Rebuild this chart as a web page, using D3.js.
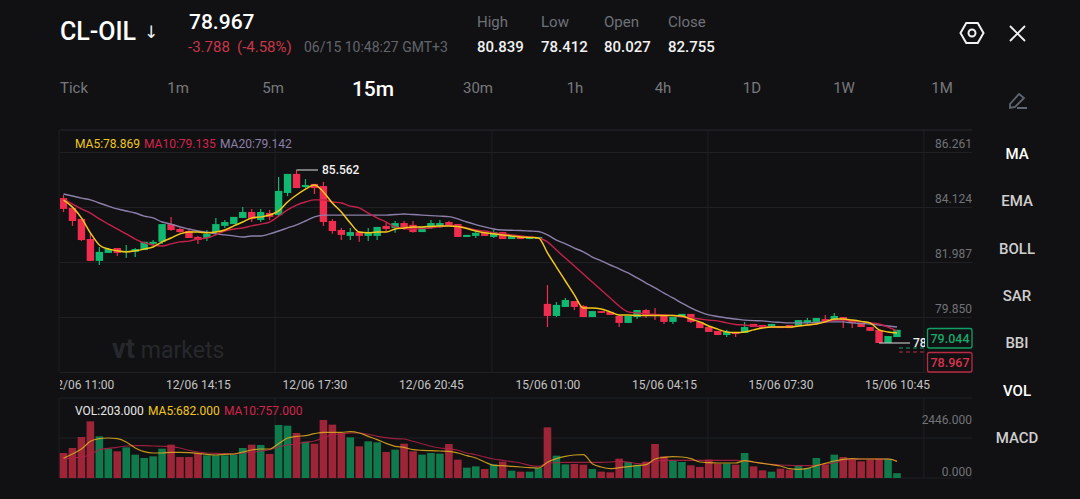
<!DOCTYPE html>
<html><head><meta charset="utf-8">
<script src="https://cdn.jsdelivr.net/npm/d3@7/dist/d3.min.js"></script>
<style>
html,body{margin:0;padding:0;background:#111113;overflow:hidden}
svg{display:block;font-family:Roboto,sans-serif}
</style></head><body><svg id="c" width="1080" height="499"></svg>
<script>
const opens=[84.47,84.09,83.66,82.88,82.03,82.34,82.53,82.38,82.38,82.45,
82.69,82.77,83.46,83.27,83.19,82.96,82.92,83.15,83.39,83.46,
83.70,83.93,83.62,83.89,83.81,84.67,85.41,84.90,85.02,84.94,
83.58,83.23,83.00,83.15,83.00,83.00,83.39,83.31,83.50,83.43,
83.15,83.31,83.39,83.54,83.46,82.96,83.00,83.12,82.96,83.15,
82.88,83.00,82.88,82.88,80.36,79.89,80.24,80.47,80.28,79.85,
80.08,80.05,79.89,79.62,79.85,80.12,79.93,79.89,79.66,79.85,
79.97,79.66,79.46,79.31,79.15,79.27,79.23,79.58,79.54,79.46,
79.50,79.54,79.50,79.62,79.66,79.77,79.73,79.85,79.73,79.58,
79.46,79.35,78.84,79.07];
const closes=[84.05,83.58,82.84,82.03,82.38,82.49,82.34,82.42,82.49,82.77,
82.77,83.46,83.23,83.15,82.92,82.84,83.08,83.46,83.54,83.74,
83.93,83.66,83.93,83.74,84.75,85.41,84.86,84.98,84.86,83.54,
83.19,83.04,83.15,83.00,83.15,83.35,83.27,83.50,83.35,83.15,
83.35,83.50,83.50,83.39,82.96,83.04,83.12,83.00,83.15,82.88,
83.00,82.88,82.96,82.96,79.89,80.32,80.51,80.24,79.85,80.08,
80.01,79.93,79.62,79.89,80.12,79.93,79.89,79.66,79.85,79.97,
79.66,79.42,79.27,79.15,79.27,79.19,79.46,79.46,79.42,79.58,
79.42,79.42,79.73,79.73,79.81,79.66,79.89,79.73,79.62,79.46,
79.31,78.84,79.11,79.35];
const highs=[84.59,84.12,83.66,83.12,82.57,82.53,82.53,82.65,82.53,82.77,
82.84,83.46,83.74,83.35,83.27,83.00,83.23,83.70,83.62,83.74,
84.12,84.05,84.05,84.01,85.29,85.41,85.562,85.21,85.02,85.10,
83.66,83.31,83.31,83.15,83.31,83.35,83.50,83.58,83.58,83.58,
83.35,83.62,83.62,83.58,83.46,83.04,83.19,83.12,83.23,83.15,
83.00,83.00,82.96,82.96,81.09,80.43,80.59,80.47,80.32,80.08,
80.08,80.05,79.93,79.89,80.12,80.16,80.20,79.89,79.85,79.97,
79.97,79.66,79.46,79.31,79.35,79.27,79.66,79.58,79.54,79.58,
79.50,79.54,79.73,79.81,79.81,79.93,80.01,79.85,79.73,79.58,
79.46,79.35,79.11,79.35];
const lows=[83.93,83.39,82.80,82.03,81.87,82.34,82.22,82.14,82.18,82.45,
82.61,82.69,83.19,83.12,82.92,82.69,82.80,83.04,83.31,83.46,
83.70,83.54,83.54,83.62,83.77,84.55,84.86,84.86,84.63,83.39,
83.08,82.84,82.84,82.77,82.80,82.84,83.19,83.12,83.23,83.12,
83.15,83.27,83.31,83.39,82.96,82.96,82.92,83.00,82.92,82.88,
82.88,82.88,82.88,82.88,79.46,79.85,80.24,80.12,79.85,79.85,
80.01,79.93,79.46,79.62,79.77,79.81,79.73,79.58,79.58,79.85,
79.62,79.42,79.27,79.15,79.07,79.07,79.23,79.46,79.42,79.46,
79.42,79.42,79.50,79.58,79.66,79.62,79.73,79.42,79.42,79.46,
79.31,78.84,78.84,79.07];
const ma5=[84.40,84.12,83.70,83.12,82.65,82.49,82.42,82.38,82.42,82.49,
82.57,82.77,82.92,83.08,83.15,83.15,83.12,83.15,83.23,83.39,
83.54,83.70,83.74,83.81,83.97,84.32,84.59,84.82,84.98,84.71,
84.28,83.93,83.50,83.15,83.12,83.15,83.15,83.27,83.31,83.35,
83.35,83.37,83.39,83.39,83.37,83.29,83.19,83.12,83.08,83.04,
83.00,82.96,82.94,82.92,82.34,81.79,81.25,80.71,80.20,80.20,
80.16,80.05,79.93,79.93,79.91,79.91,79.91,79.91,79.91,79.89,
79.77,79.66,79.50,79.38,79.27,79.25,79.27,79.35,79.42,79.46,
79.46,79.46,79.50,79.54,79.58,79.66,79.77,79.77,79.73,79.68,
79.62,79.35,79.27,79.23];
const ma10=[84.43,84.24,84.05,83.89,83.66,83.46,83.27,83.08,82.88,82.73,
82.65,82.61,82.69,82.77,82.80,82.88,82.92,83.04,83.19,83.27,
83.31,83.39,83.46,83.54,83.77,84.01,84.20,84.32,84.40,84.40,
84.32,84.28,84.16,84.09,83.89,83.70,83.54,83.35,83.29,83.27,
83.29,83.31,83.35,83.41,83.39,83.31,83.23,83.19,83.13,83.08,
83.04,83.00,82.96,82.92,82.77,82.45,82.14,81.83,81.52,81.21,
80.90,80.59,80.28,80.05,80.01,79.97,79.95,79.93,79.91,79.85,
79.81,79.77,79.73,79.70,79.62,79.56,79.54,79.50,79.48,79.46,
79.46,79.48,79.50,79.54,79.58,79.66,79.72,79.73,79.70,79.66,
79.62,79.58,79.46,79.31];
const ma20=[84.63,84.55,84.47,84.40,84.28,84.16,84.05,83.97,83.89,83.77,
83.70,83.54,83.46,83.35,83.27,83.19,83.15,83.08,83.04,83.00,
82.96,83.00,83.00,83.08,83.19,83.31,83.43,83.58,83.74,83.81,
83.81,83.81,83.81,83.81,83.81,83.81,83.81,83.83,83.85,83.83,
83.81,83.79,83.77,83.75,83.66,83.54,83.44,83.35,83.27,83.23,
83.22,83.21,83.19,83.17,83.04,82.84,82.69,82.53,82.38,82.18,
82.03,81.87,81.72,81.56,81.37,81.17,80.98,80.78,80.59,80.39,
80.20,80.05,79.93,79.87,79.81,79.77,79.73,79.71,79.70,79.66,
79.64,79.62,79.62,79.62,79.64,79.66,79.66,79.66,79.62,79.60,
79.58,79.54,79.50,79.46];
const volumes=[1054,1265,1729,2390,1757,1237,1125,1293,984,844,
914,1237,1406,886,886,1054,956,956,956,984,
1265,1406,1392,1012,2236,2207,1898,1533,1448,2446,
2250,1898,1715,1336,1547,1504,1097,1195,1448,1125,
984,1054,1026,1434,773,436,492,380,576,689,
309,267,267,422,2137,942,576,591,562,380,
267,239,815,675,562,689,1434,914,745,675,
534,464,773,605,605,562,1054,492,323,267,
394,351,520,422,844,562,984,886,773,703,
773,801,815,203];
const volMa5=[830,1012,1223,1547,1659,1687,1659,1518,1265,1111,
1054,1054,1083,1083,1069,1040,998,970,998,1012,
1097,1181,1223,1223,1448,1687,1757,1786,1870,1926,
1926,1926,1954,1898,1757,1617,1462,1336,1293,1195,
1167,1153,1139,1125,1054,942,844,675,534,520,
492,464,436,422,661,815,914,970,984,605,
464,394,436,478,520,562,801,872,900,886,
815,675,647,633,633,633,731,675,619,562,
506,394,366,408,520,619,717,787,815,801,
801,801,801,703];
const volMa10=[801,844,886,984,1195,1251,1293,1350,1364,1364,
1350,1336,1322,1265,1167,1097,1054,1040,1026,1012,
1054,1083,1139,1195,1308,1392,1434,1504,1561,1687,
1828,1856,1898,1898,1842,1757,1701,1659,1645,1547,
1448,1336,1265,1237,1167,1054,984,886,801,745,
689,633,534,492,633,647,661,661,661,661,
661,675,703,675,605,591,703,745,745,745,
745,745,745,745,745,745,717,661,619,576,
548,534,520,520,534,591,633,745,787,801,
801,801,801,703];
const timeLabels=["12/06 11:00","12/06 14:15","12/06 17:30","12/06 20:45","15/06 01:00","15/06 04:15","15/06 07:30","15/06 10:45"];
const timeIndex=[2,15,28,41,54,67,80,93];
const priceTicks=[86.261,84.124,81.987,79.850];
const priceGrid=[86.261,84.124,81.987,79.850,77.713];
const volTicks=[2446,0];
const vGridIdx=[-0.5,23.6,47.8,71.9,96];
const tabs=["Tick","1m","5m","15m","30m","1h","4h","1D","1W","1M"];
const tabX=[74,178,273,373,478,575,663,752,844,942];
const menu=["MA","EMA","BOLL","SAR","BBI","VOL","MACD"];
const menuActive=["MA","VOL"];
const stats=[["High","80.839",477],["Low","78.412",541],["Open","80.027",604],["Close","82.755",668]];

const svg=d3.select("#c");
const GREEN="#10b970",RED="#f02d4e",YEL="#f3c81a",CRIM="#c5214a",PUR="#8c80aa";
const x=d3.scaleLinear().domain([0,93]).range([63.5,897]);
const y=d3.scaleLinear().domain([86.261,79.85]).range([152,317]);
const yv=d3.scaleLinear().domain([0,2446]).range([478,420]);
const defs=svg.append("defs");
defs.append("clipPath").attr("id","plot").append("rect").attr("x",60).attr("y",125).attr("width",865).attr("height",250);
defs.append("clipPath").attr("id","tl").append("rect").attr("x",60).attr("y",375).attr("width",900).attr("height",22);
const T=(s,px,py,size,fill,w,anchor)=>svg.append("text").attr("x",px).attr("y",py).attr("font-size",size).attr("fill",fill).attr("font-weight",w||400).attr("text-anchor",anchor||"start").text(s);

// header
T("CL-OIL",60,40,25,"#fff",500);
T("↓",151,38,17,"#f2f2f2",400,"middle").attr("font-family","'DejaVu Sans'");
T("78.967",189,29,21,"#fff",500);
T("-3.788",188,52,15,"#c9364a");
T("(-4.58%)",237,52,15,"#c9364a");
T("06/15 10:48:27 GMT+3",304,52,14,"#62656c");
stats.forEach(s=>{T(s[0],s[2],27,15,"#6f7278");T(s[1],s[2],52,15,"#f2f2f2",500);});
tabs.forEach((t,i)=>{const a=t==="15m";T(t,tabX[i],a?96:93,a?21:15,a?"#fff":"#77797d",a?500:400,"middle");});
menu.forEach((m,i)=>T(m,1017,159+i*47.3,15,menuActive.includes(m)?"#fff":"#cfcfcf",500,"middle"));

// icons
const hex=d3.lineRadial().curve(d3.curveLinearClosed);
svg.append("path").attr("transform","translate(972,33)").attr("d",hex(d3.range(6).map(k=>[k*Math.PI/3+Math.PI/2,11.5])))
  .attr("fill","none").attr("stroke","#f2f2f2").attr("stroke-width",2);
svg.append("circle").attr("cx",972).attr("cy",33).attr("r",3.5).attr("fill","none").attr("stroke","#f2f2f2").attr("stroke-width",2);
svg.append("path").attr("d","M1010 26L1025 41M1025 26L1010 41").attr("stroke","#f2f2f2").attr("stroke-width",1.8);
svg.append("path").attr("d","M1010 104L1019 94L1024 98L1015 107L1010 108ZM1017 108L1027 108").attr("fill","none").attr("stroke","#5f6674").attr("stroke-width",1.8);

// grid
const gridCol="#1f2024";
const gridAxis=svg.append("g").attr("transform","translate(972,0)")
  .call(d3.axisLeft(y).tickValues(priceGrid).tickSize(912).tickFormat(""));
gridAxis.select(".domain").remove();
gridAxis.selectAll("line").attr("stroke",gridCol);
svg.append("line").attr("x1",60).attr("x2",972).attr("y1",130).attr("y2",130).attr("stroke","#2a2b30");
[398,438,478].forEach(v=>svg.append("line").attr("x1",60).attr("x2",972).attr("y1",v).attr("y2",v).attr("stroke",gridCol));
vGridIdx.forEach(i=>{
  svg.append("line").attr("x1",x(i)).attr("x2",x(i)).attr("y1",130).attr("y2",372).attr("stroke",gridCol);
  svg.append("line").attr("x1",x(i)).attr("x2",x(i)).attr("y1",398).attr("y2",478).attr("stroke",gridCol);
});

// watermark
const wm=svg.append("text").attr("x",112).attr("y",358).attr("fill","#26282c").attr("font-size",23);
wm.append("tspan").attr("font-size",27).attr("font-weight",700).text("vt");
wm.append("tspan").attr("dx",6).text("markets");

// candles
const plot=svg.append("g").attr("clip-path","url(#plot)");
const idx=d3.range(opens.length);
const col=i=>closes[i]>=opens[i]?GREEN:RED;
plot.selectAll("line.w").data(idx).join("line").attr("class","w")
  .attr("x1",i=>x(i)).attr("x2",i=>x(i)).attr("y1",i=>y(highs[i])).attr("y2",i=>y(lows[i])).attr("stroke",col).attr("stroke-width",1.2);
plot.selectAll("rect.b").data(idx).join("rect").attr("class","b")
  .attr("x",i=>x(i)-3.7).attr("width",7.4)
  .attr("y",i=>y(Math.max(opens[i],closes[i])))
  .attr("height",i=>Math.max(1,Math.abs(y(opens[i])-y(closes[i]))))
  .attr("fill",col);
const ln=(sc,arr)=>d3.line().x((d,i)=>x(i)).y(d=>sc(d)).curve(d3.curveMonotoneX)(arr);
plot.append("path").attr("d",ln(y,ma20)).attr("fill","none").attr("stroke",PUR).attr("stroke-width",1.4);
plot.append("path").attr("d",ln(y,ma10)).attr("fill","none").attr("stroke",CRIM).attr("stroke-width",1.4);
plot.append("path").attr("d",ln(y,ma5)).attr("fill","none").attr("stroke",YEL).attr("stroke-width",1.5);

// extreme markers
const iHigh=highs.indexOf(d3.max(highs));
plot.append("line").attr("x1",x(iHigh)).attr("x2",318).attr("y1",y(highs[iHigh])).attr("y2",y(highs[iHigh])).attr("stroke","#bdbdbd").attr("stroke-width",1.2);
plot.append("text").attr("x",322).attr("y",y(highs[iHigh])+4.5).attr("fill","#f2f2f2").attr("font-size",12).attr("font-weight",500).text(d3.format(".3f")(highs[iHigh]));
const iLow=lows.indexOf(d3.min(lows));
plot.append("line").attr("x1",x(iLow)).attr("x2",910).attr("y1",y(lows[iLow])).attr("y2",y(lows[iLow])).attr("stroke","#bdbdbd").attr("stroke-width",1.2);
plot.append("text").attr("x",913).attr("y",y(lows[iLow])+4.5).attr("fill","#f2f2f2").attr("font-size",12).attr("font-weight",500).text("78");

// price axis labels
const pa=svg.append("g").attr("transform","translate(972,-8)")
  .call(d3.axisLeft(y).tickValues(priceTicks).tickSize(0).tickPadding(0).tickFormat(d3.format(".3f")));
pa.select(".domain").remove();
pa.selectAll("text").attr("fill","#717378").attr("font-size",12).attr("font-family","Roboto,sans-serif");

// last-price boxes
const lastBox=[["79.044",328,"#17a86c","#12a066",348],["78.967",352,"#d9344f","#b92a44",352]];
lastBox.forEach(b=>{
  svg.append("rect").attr("x",927.5).attr("y",b[1]+.5).attr("width",44.5).attr("height",19.5).attr("rx",2).attr("fill","#111113").attr("stroke",b[3]).attr("stroke-width",1.3);
  T(b[0],950,b[1]+14.5,12.5,b[2],500,"middle");
  svg.append("line").attr("x1",899).attr("x2",925).attr("y1",b[4]).attr("y2",b[4]).attr("stroke",b[3]).attr("stroke-dasharray","4 3");
});

// time axis
const taClip=svg.append("g").attr("clip-path","url(#tl)");
const ta=taClip.append("g").attr("transform","translate(0,389)")
  .call(d3.axisBottom(x).tickValues(timeIndex).tickSize(0).tickPadding(0).tickFormat((d,i)=>timeLabels[i]));
ta.select(".domain").remove();
ta.selectAll("text").attr("fill","#c4c4c4").attr("font-size",12).attr("dy",0).attr("y",0).attr("font-family","Roboto,sans-serif");

// legends
[["MA5:78.869",75,YEL],["MA10:79.135",144,"#d3244c"],["MA20:79.142",220,PUR]].forEach(l=>T(l[0],l[1],148,12,l[2],400));
[["VOL:203.000",75,"#e8e8e8"],["MA5:682.000",148,YEL],["MA10:757.000",224,"#d3244c"]].forEach(l=>T(l[0],l[1],415,12,l[2],400));

// volume
svg.selectAll("rect.v").data(idx).join("rect").attr("class","v")
  .attr("x",i=>x(i)-3.8).attr("width",7.6).attr("y",i=>yv(volumes[i])).attr("height",i=>478-yv(volumes[i]))
  .attr("fill",i=>closes[i]>=opens[i]?"#0f7a4c":"#9e2438");
svg.append("path").attr("d",ln(yv,volMa10)).attr("fill","none").attr("stroke","#b32148").attr("stroke-width",1.1).attr("opacity",.85);
svg.append("path").attr("d",ln(yv,volMa5)).attr("fill","none").attr("stroke","#e0ad1e").attr("stroke-width",1.2).attr("opacity",.85);
const va=svg.append("g").attr("transform","translate(972,0)")
  .call(d3.axisLeft(yv).tickValues(volTicks).tickSize(0).tickPadding(0).tickFormat(d3.format(".3f")));
va.select(".domain").remove();
va.selectAll("text").attr("fill","#717378").attr("font-size",12).attr("font-family","Roboto,sans-serif")
  .attr("y",d=>d===0?-6:0);
</script></body></html>
